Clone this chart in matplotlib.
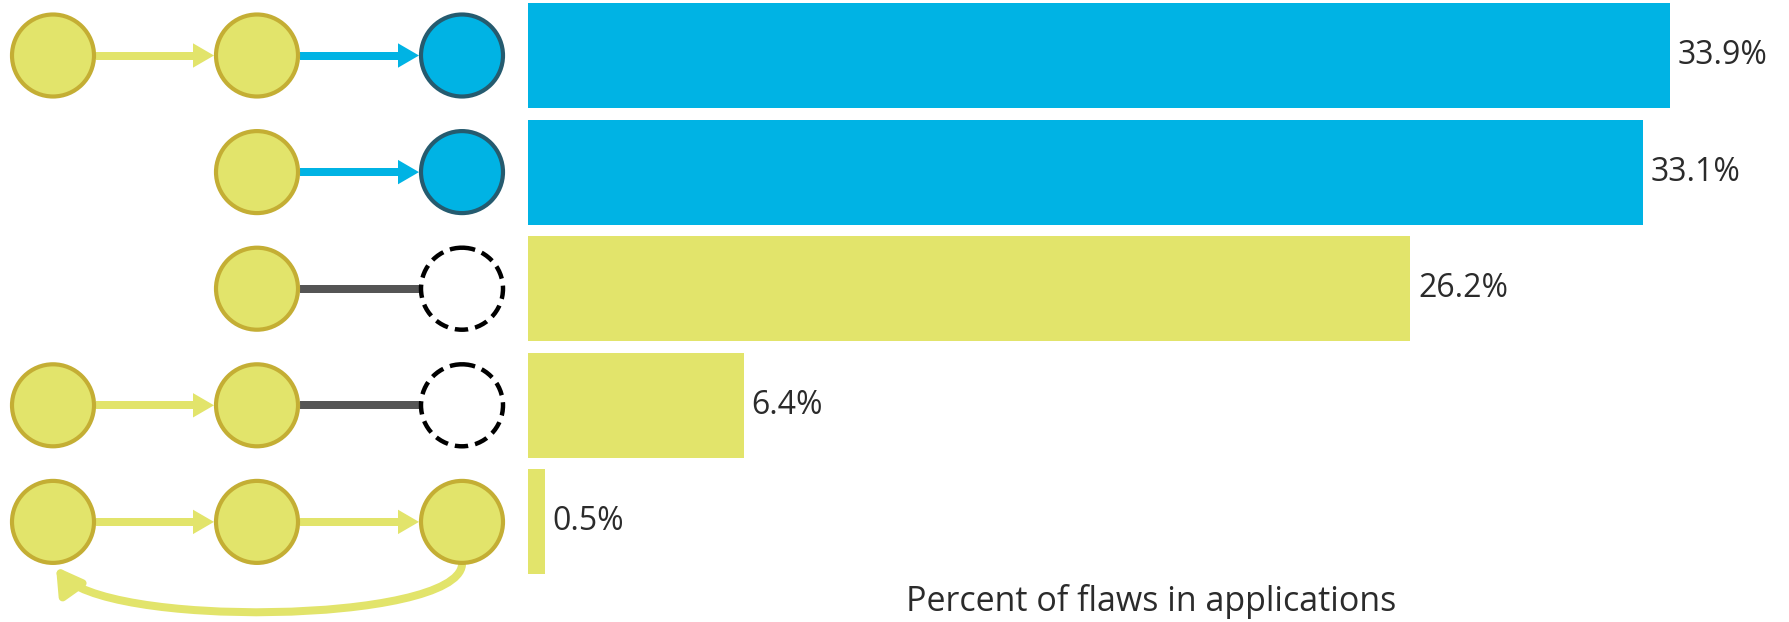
import matplotlib.pyplot as plt
import numpy as np
from matplotlib.patches import Circle, Polygon, FancyArrowPatch
from matplotlib.path import Path

plt.rcParams['font.family'] = ['Open Sans', 'DejaVu Sans']

# data
values = [33.9, 33.1, 26.2, 6.4, 0.5]
labels = ["33.9%", "33.1%", "26.2%", "6.4%", "0.5%"]
bar_kind = ["b", "b", "y", "y", "y"]
xlabel = "Percent of flaws in applications"

# node diagrams per row: y=yellow node, b=blue node, m=missing (dashed), None=nothing
nodes = [["y", "y", "b"], [None, "y", "b"], [None, "y", "m"], ["y", "y", "m"], ["y", "y", "y"]]
edges = [[("y", 0, 1), ("b", 1, 2)], [("b", 1, 2)], [("g", 1, 2)],
         [("y", 0, 1), ("g", 1, 2)], [("y", 0, 1), ("y", 1, 2)]]
cycle_row = 4

YEL = "#e2e46b"
YEL_EDGE = "#c4ae34"
BLUE = "#00b3e4"
BLUE_EDGE = "#255b6f"
GREY = "#555555"
TXT = "#2b2b2b"
colors = {"y": YEL, "b": BLUE}

W, H = 1789, 622
fig = plt.figure(figsize=(W / 100, H / 100), dpi=100)

# diagram layer, pixel coords (y down)
axd = fig.add_axes([0, 0, 1, 1])
axd.set_xlim(0, W)
axd.set_ylim(H, 0)
axd.axis("off")

# bars
ax = fig.add_axes([528 / W, 41.8 / H, 1246 / W, 583 / H])
ypos = np.arange(len(values))
ax.barh(ypos, values, height=0.9, color=[colors[k] for k in bar_kind])
ax.set_xlim(0, 37)
ax.set_ylim(4.5, -0.5)
for s in ax.spines.values():
    s.set_visible(False)
ax.set_xticks([])
ax.set_yticks([])
ax.patch.set_alpha(0)
for i, (v, lab) in enumerate(zip(values, labels)):
    ax.annotate(lab, (v, i), xytext=(5.5, 0), textcoords="offset points",
                va="center", ha="left", fontsize=23, color=TXT)
ax.text(0.5, -0.052, xlabel, transform=ax.transAxes, ha="center", va="baseline",
        fontsize=24.5, color=TXT)

# row centres in pixel coordinates, taken from the bar axes
row_y = [H - ax.transData.transform((0, i))[1] for i in ypos]
node_x = [53, 257, 462]
r = 41
lw_line = 8

def arrow(x0, x1, y, c):
    hl, hw = 21, 12.2
    axd.plot([x0, x1 - hl + 1], [y, y], color=c, lw=lw_line * 0.72, solid_capstyle="butt", zorder=1)
    axd.add_patch(Polygon([[x1 - hl, y - hw], [x1, y], [x1 - hl, y + hw]], closed=True,
                          facecolor=c, edgecolor="none", zorder=1))

for i, (row, ed) in enumerate(zip(nodes, edges)):
    y = row_y[i]
    for c, a, b in ed:
        xa, xb = node_x[a] + r + 2, node_x[b] - r - 2
        if c == "g":
            axd.plot([xa, xb + 2], [y, y], color=GREY, lw=8 * 0.72, solid_capstyle="butt", zorder=1)
        else:
            arrow(xa, xb, y, BLUE if c == "b" else YEL)
    for j, k in enumerate(row):
        if k is None:
            continue
        if k == "m":
            axd.add_patch(Circle((node_x[j], y), r, facecolor="white", edgecolor="black",
                                 lw=3.2, linestyle=(0, (3.0, 1.6)), zorder=2))
        else:
            axd.add_patch(Circle((node_x[j], y), r, facecolor=colors[k],
                                 edgecolor=YEL_EDGE if k == "y" else BLUE_EDGE, lw=3, zorder=2))

# loop back arrow on the last row
y = row_y[cycle_row]
p0 = (node_x[2], y + r + 2)
p3 = (node_x[0] + 3, y + r + 4)
verts = [p0, (node_x[2] - 6, y + 102), (node_x[0] + 47, y + 107), p3]
path = Path(verts, [Path.MOVETO, Path.CURVE4, Path.CURVE4, Path.CURVE4])
axd.add_patch(FancyArrowPatch(path=path, arrowstyle="-|>,head_length=15,head_width=8.8",
                              mutation_scale=1, color=YEL, lw=lw_line * 0.72, zorder=1))

fig.savefig("out.png", dpi=100)
